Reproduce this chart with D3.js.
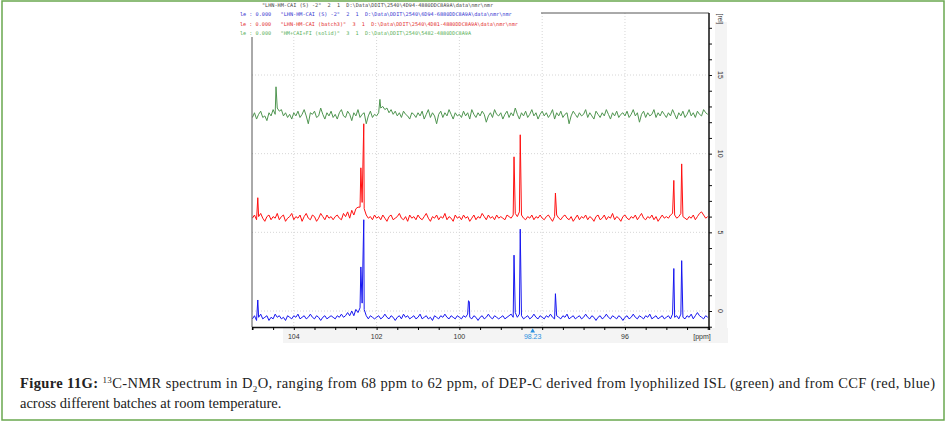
<!DOCTYPE html>
<html>
<head>
<meta charset="utf-8">
<script src="https://cdn.jsdelivr.net/npm/d3@7"></script>
<style>
  body { margin: 0; background: #fff; }
  svg { display: block; }
</style>
</head>
<body>
<svg id="fig" width="946" height="422"></svg>
<script>
// sampled ppm axis, 105 -> 94 every 0.05 ppm
const ppmGrid = d3.range(0, 221).map(i => +(105 - i * 0.05).toFixed(2));

// baseline (noise) intensities, one per grid point
const greenBase = [
  12.3,12.6,12.2,12.5,12.7,12.3,12.4,12.1,12.6,12.4,12.8,12.5,12.9,12.7,12.8,12.4,12.6,12.3,12.5,12.2,
  12.6,12.4,12.7,12.3,12.5,12.8,12.4,11.9,12.6,12.5,12.7,12.3,12.4,12.9,12.5,12.2,12.6,12.4,12.7,12.3,
  12.5,12.2,12.6,12.8,12.4,12.3,12.7,12.5,12.1,12.6,12.4,12.8,12.3,12.5,12.6,11.9,12.4,12.7,12.3,12.5,
  12.4,12.6,12.9,13.0,12.8,12.9,12.6,12.8,12.5,12.7,12.4,12.6,12.3,12.7,12.5,12.4,12.2,12.6,12.5,12.3,
  12.6,12.4,12.7,12.2,12.5,12.8,12.3,12.6,12.4,11.9,12.5,12.7,12.3,12.6,12.4,12.8,12.5,12.2,12.6,12.4,
  12.5,12.3,12.7,12.4,12.6,12.2,12.8,12.5,12.3,12.6,12.4,12.7,12.5,12.0,12.4,12.6,12.3,12.8,12.5,12.4,
  12.6,12.2,12.5,12.7,12.3,12.6,12.4,12.9,12.5,12.2,12.6,12.4,12.7,12.3,12.5,12.8,12.4,12.6,12.2,12.5,
  12.7,12.4,12.6,12.3,12.5,12.8,12.2,12.6,12.4,12.7,12.3,12.5,12.6,11.9,12.4,12.7,12.5,12.3,12.6,12.4,
  12.5,12.8,12.3,12.6,12.4,12.2,12.7,12.5,12.3,12.6,12.4,12.8,12.5,12.2,12.6,12.4,12.7,12.3,12.5,12.6,
  12.4,12.7,12.3,12.5,12.8,12.4,12.6,12.0,12.5,12.7,12.3,12.6,12.4,12.5,12.8,12.3,12.6,12.4,12.7,12.5,
  12.3,12.6,12.4,12.8,12.5,12.2,12.6,12.4,12.7,12.3,12.5,12.8,12.4,12.6,12.3,12.7,12.5,12.4,12.8,12.6,12.5
];
const redBase = [
  5.9,6.1,5.8,6.0,6.2,5.9,5.7,6.0,6.1,5.8,6.0,5.9,6.2,5.8,6.0,6.1,5.7,5.9,6.0,6.2,
  5.8,6.0,5.9,6.1,5.7,6.0,6.2,5.9,5.8,6.1,6.0,5.7,5.9,6.2,6.0,5.8,6.1,5.9,6.0,5.8,
  6.0,6.1,5.9,5.8,6.2,6.0,6.3,5.9,6.4,6.1,6.5,6.6,6.6,6.9,6.5,6.1,5.9,6.0,5.8,6.1,
  5.9,6.0,5.8,6.1,5.9,5.7,6.0,6.1,5.8,5.9,6.0,6.2,5.9,5.8,6.0,5.7,6.1,5.9,6.0,5.8,
  6.1,5.9,5.8,6.0,6.2,5.9,5.7,6.0,5.9,6.1,5.8,6.0,5.9,6.2,5.8,6.0,5.9,5.7,6.1,5.9,
  6.0,5.8,6.1,5.9,6.0,5.7,5.9,6.1,5.8,6.0,5.9,6.2,6.0,5.8,6.1,5.9,6.0,5.8,6.1,5.9,
  6.0,5.9,5.8,6.1,6.0,5.9,6.1,6.2,6.0,6.3,6.1,5.9,5.8,6.0,5.9,6.1,5.8,6.0,5.9,6.1,
  5.9,5.8,6.0,6.1,5.9,5.7,6.0,6.1,5.9,5.8,6.0,6.1,5.9,5.8,6.0,5.7,5.9,6.1,5.8,6.0,
  5.9,6.1,5.8,6.0,5.9,5.7,6.0,6.1,5.8,5.9,6.1,5.8,6.0,5.9,6.2,5.8,6.0,5.9,5.7,6.0,
  6.1,5.9,5.8,6.0,5.9,6.1,5.8,6.0,6.2,5.9,5.8,6.0,5.9,6.1,5.8,6.0,5.7,5.9,6.1,5.9,
  6.0,5.9,6.1,6.2,6.1,5.9,6.0,6.2,6.0,5.9,5.8,6.0,5.9,6.1,5.8,6.0,6.2,6.3,6.1,5.9,6.0
];
const blueBase = [
  -0.5,-0.3,-0.6,-0.4,-0.2,-0.5,-0.4,-0.3,-0.6,-0.4,-0.5,-0.2,-0.4,-0.3,-0.5,-0.4,-0.6,-0.3,-0.4,-0.5,
  -0.3,-0.4,-0.2,-0.5,-0.4,-0.3,-0.5,-0.4,-0.2,-0.4,-0.5,-0.3,-0.4,-0.6,-0.4,-0.3,-0.5,-0.4,-0.3,-0.4,
  -0.5,-0.3,-0.4,-0.2,-0.4,-0.3,-0.1,-0.3,0.0,-0.3,0.1,-0.1,0.2,0.5,0.1,-0.3,-0.5,-0.3,-0.4,-0.5,
  -0.4,-0.3,-0.5,-0.4,-0.2,-0.4,-0.5,-0.3,-0.4,-0.6,-0.4,-0.3,-0.5,-0.2,-0.4,-0.3,-0.5,-0.4,-0.3,-0.5,
  -0.4,-0.2,-0.5,-0.4,-0.3,-0.5,-0.4,-0.6,-0.3,-0.4,-0.5,-0.3,-0.4,-0.2,-0.4,-0.5,-0.3,-0.4,-0.5,-0.3,
  -0.4,-0.5,-0.3,-0.4,-0.2,-0.4,-0.5,-0.3,-0.4,-0.6,-0.4,-0.3,-0.5,-0.4,-0.2,-0.4,-0.5,-0.3,-0.4,-0.5,
  -0.4,-0.3,-0.5,-0.4,-0.3,-0.2,-0.4,-0.1,-0.4,-0.2,-0.3,-0.5,-0.4,-0.3,-0.5,-0.4,-0.2,-0.4,-0.5,-0.3,
  -0.4,-0.5,-0.3,-0.4,-0.2,-0.4,-0.5,-0.3,-0.4,-0.5,-0.3,-0.4,-0.2,-0.5,-0.4,-0.3,-0.5,-0.4,-0.3,-0.5,
  -0.4,-0.2,-0.4,-0.5,-0.3,-0.4,-0.6,-0.4,-0.3,-0.5,-0.4,-0.2,-0.4,-0.5,-0.3,-0.4,-0.5,-0.3,-0.4,-0.6,
  -0.4,-0.3,-0.5,-0.4,-0.2,-0.4,-0.5,-0.3,-0.4,-0.5,-0.3,-0.4,-0.2,-0.5,-0.4,-0.3,-0.5,-0.4,-0.3,-0.5,
  -0.4,-0.3,-0.5,-0.2,-0.4,-0.3,-0.5,-0.2,-0.4,-0.5,-0.3,-0.4,-0.2,-0.5,-0.3,-0.1,-0.3,-0.4,-0.5,-0.3,-0.4
];

// peak tops [ppm, intensity]
const greenPeaks = [[104.43, 14.25], [101.92, 13.45]];
const redPeaks = [[104.87, 7.2], [102.38, 9.1], [102.31, 11.9], [98.68, 9.8], [98.53, 11.2],
                  [97.68, 7.5], [94.82, 8.3], [94.63, 9.35]];
const bluePeaks = [[104.87, 0.7], [102.38, 2.8], [102.31, 5.8], [99.78, 0.65], [99.76, 0.6],
                   [98.68, 3.55], [98.53, 5.2], [97.68, 1.1], [94.82, 2.7], [94.63, 3.2]];

const xTickLabels = [104, 102, 100, 96];
const yTickLabels = [0, 5, 10, 15];
const cursorPpm = 98.23;

const headerLines = [
  { text: '"LHN-HM-CAI (S) -2"  2  1  D:\\Data\\DDIT\\2540\\4D94-4880DDC8A9A\\data\\nmr\\nmr', color: '#444' },
  { text: 'le : 0.000   "LHN-HM-CAI (S) -2"  2  1  D:\\Data\\DDIT\\2540\\6D94-6880DDC8A9A\\data\\nmr\\nmr', color: '#3535d0' },
  { text: 'le : 0.000   "LHN-HM-CAI (batch3)"  3  1  D:\\Data\\DDIT\\2540\\4D81-4880DDC8A9A\\data\\nmr\\nmr', color: '#e33030' },
  { text: 'le : 0.000   "HM+CAI+FI (solid)"  3  1  D:\\Data\\DDIT\\2540\\5482-4880DDC8A9A', color: '#58b058' }
];

const svg = d3.select('#fig');

// figure frame
svg.append('rect')
  .attr('x', 2).attr('y', 1).attr('width', 942).attr('height', 419)
  .attr('fill', 'none').attr('stroke', '#6aa84f').attr('stroke-width', 1.5);

const plot = { left: 252, right: 709, top: 13, bottom: 327 };

const x = d3.scaleLinear().domain([105.01, 93.97]).range([plot.left, plot.right]);
const y = d3.scaleLinear().domain([0, 15]).range([311, 75]);

// gray label bands of the spectrum window
svg.append('rect').attr('x', 283).attr('y', 328).attr('width', 445).attr('height', 15).attr('fill', '#f4f4f4');
svg.append('rect').attr('x', 715).attr('y', 22).attr('width', 12).attr('height', 321).attr('fill', '#f4f4f4');

// dotted grid
const grid = svg.append('g').attr('stroke', '#d6d6d6').attr('stroke-dasharray', '1,2');
grid.selectAll('line.v').data([104, 102, 100, 98, 96]).enter().append('line')
  .attr('x1', d => x(d)).attr('x2', d => x(d))
  .attr('y1', plot.top).attr('y2', plot.bottom);
grid.selectAll('line.h').data(yTickLabels).enter().append('line')
  .attr('x1', plot.left).attr('x2', plot.right)
  .attr('y1', d => y(d)).attr('y2', d => y(d));

// spectra
svg.append('clipPath').attr('id', 'clip').append('rect')
  .attr('x', plot.left).attr('y', plot.top)
  .attr('width', plot.right - plot.left).attr('height', plot.bottom - plot.top);

const line = d3.line().x(d => x(d[0])).y(d => y(d[1]));

const buildSeries = (base, peaks) => {
  const pts = ppmGrid.map((p, i) => [p, base[i]]).concat(peaks);
  return pts.sort((a, b) => b[0] - a[0]);
};

const spectra = [
  { pts: buildSeries(greenBase, greenPeaks), color: '#4f9550' },
  { pts: buildSeries(redBase, redPeaks), color: '#ff1010' },
  { pts: buildSeries(blueBase, bluePeaks), color: '#1616f0' }
];

svg.append('g').attr('clip-path', 'url(#clip)')
  .selectAll('path').data(spectra).enter().append('path')
  .attr('d', d => line(d.pts))
  .attr('fill', 'none')
  .attr('stroke', d => d.color)
  .attr('stroke-width', 1)
  .attr('stroke-linejoin', 'round');

// frame of the plot
svg.append('line').attr('x1', plot.left).attr('x2', plot.left)
  .attr('y1', plot.top).attr('y2', plot.bottom).attr('stroke', '#555');
svg.append('line').attr('x1', plot.left).attr('x2', plot.right)
  .attr('y1', plot.top).attr('y2', plot.top).attr('stroke', '#555');

// bottom axis
const xAxis = svg.append('g').attr('transform', `translate(0,${plot.bottom})`)
  .call(d3.axisBottom(x).tickValues(d3.range(94, 105.01, 0.5)).tickSize(3).tickFormat(''));
xAxis.select('.domain').attr('stroke', '#111').attr('stroke-width', 1.3);

svg.selectAll('text.xlab').data(xTickLabels).enter().append('text')
  .attr('x', d => x(d)).attr('y', 339)
  .attr('text-anchor', 'middle')
  .attr('font-family', 'Arial, Liberation Sans, sans-serif')
  .attr('font-size', 7).attr('fill', '#333')
  .text(d => d);

svg.append('text').attr('x', 702).attr('y', 339)
  .attr('text-anchor', 'middle')
  .attr('font-family', 'Arial, Liberation Sans, sans-serif')
  .attr('font-size', 7).attr('fill', '#333')
  .text('[ppm]');

// cursor marker
svg.append('path')
  .attr('d', d3.symbol().type(d3.symbolTriangle).size(10))
  .attr('transform', `translate(${x(cursorPpm)},331)`)
  .attr('fill', '#2a8fe0');
svg.append('text').attr('x', x(cursorPpm)).attr('y', 339)
  .attr('text-anchor', 'middle')
  .attr('font-family', 'Arial, Liberation Sans, sans-serif')
  .attr('font-size', 7).attr('fill', '#2a8fe0')
  .text(cursorPpm.toFixed(2));

// right axis
const yAxis = svg.append('g').attr('transform', `translate(${plot.right},0)`)
  .call(d3.axisRight(d3.scaleLinear().domain(y.domain()).range(y.range()))
    .tickValues(d3.range(-1, 20, 1)).tickSize(3).tickFormat(''));
yAxis.select('.domain').remove();
yAxis.selectAll('.tick line').attr('stroke', '#111');
svg.append('line').attr('x1', plot.right).attr('x2', plot.right)
  .attr('y1', plot.top).attr('y2', plot.bottom)
  .attr('stroke', '#111').attr('stroke-width', 1.5);
yAxis.selectAll('.tick').filter(d => d < -1.05 || d > 18.95).remove();

svg.selectAll('text.ylab').data(yTickLabels).enter().append('text')
  .attr('transform', d => `translate(718,${y(d)}) rotate(90)`)
  .attr('text-anchor', 'middle')
  .attr('font-family', 'Arial, Liberation Sans, sans-serif')
  .attr('font-size', 7).attr('fill', '#333')
  .text(d => d);

svg.append('text')
  .attr('transform', 'translate(718,19) rotate(90)')
  .attr('text-anchor', 'middle')
  .attr('font-family', 'Arial, Liberation Sans, sans-serif')
  .attr('font-size', 6.5).attr('fill', '#333')
  .text('[rel]');

// header block of the spectrum window
svg.append('rect').attr('x', 239).attr('y', 3).attr('width', 302).attr('height', 34).attr('fill', '#fff');
svg.selectAll('text.head').data(headerLines).enter().append('text')
  .attr('x', (d, i) => i === 0 ? 262 : 240)
  .attr('y', (d, i) => 7 + i * 9.3)
  .attr('font-family', 'DejaVu Sans Mono, monospace')
  .attr('font-size', 5.2)
  .attr('fill', d => d.color)
  .attr('xml:space', 'preserve')
  .style('white-space', 'pre')
  .text(d => d.text);

// caption
const cap = svg.append('g')
  .attr('font-family', 'Liberation Serif, DejaVu Serif, serif')
  .attr('font-size', 14.5).attr('fill', '#222');

const c1 = cap.append('text').attr('x', 20).attr('y', 388)
  .attr('textLength', 915).attr('lengthAdjust', 'spacing');
c1.append('tspan').attr('font-weight', 'bold').text('Figure 11G: ');
c1.append('tspan').attr('font-size', 9).attr('dy', -5).text('13');
c1.append('tspan').attr('dy', 5).text('C-NMR spectrum in D');
c1.append('tspan').attr('font-size', 9).attr('dy', 4).text('2');
c1.append('tspan').attr('dy', -4).text('O, ranging from 68 ppm to 62 ppm, of DEP-C derived from lyophilized ISL (green) and from CCF (red, blue)');

cap.append('text').attr('x', 20).attr('y', 408)
  .text('across different batches at room temperature.');
</script>
</body>
</html>
